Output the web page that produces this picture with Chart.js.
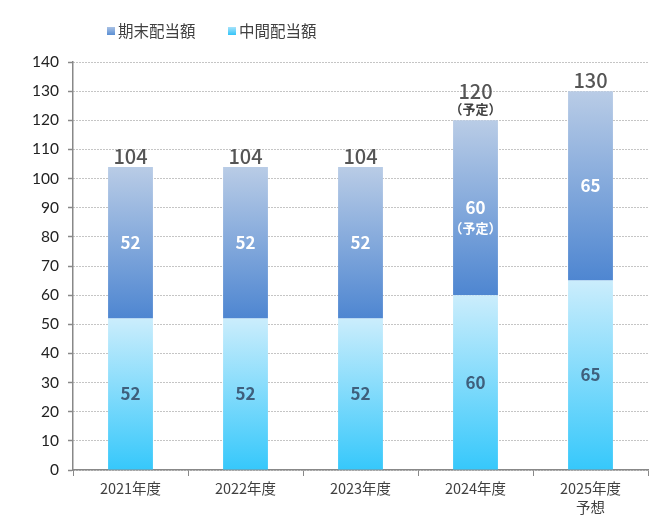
<!doctype html>
<html>
<head>
	<title>配当額の推移</title>
	<script src="https://cdn.jsdelivr.net/npm/chart.js@4.4.1/dist/chart.umd.min.js"></script>
	<style>
	body { margin: 0; background: #fff; }
	.chart-container { width: 671px; height: 532px; }
	</style>
</head>
<body>
	<div class="chart-container"><canvas id="chart"></canvas></div>
	<script>
		var categories = [['2021年度'], ['2022年度'], ['2023年度'], ['2024年度'], ['2025年度', '予想']];
		var interimValues = [52, 52, 52, 60, 65];   // 中間配当額
		var yearEndValues = [52, 52, 52, 60, 65];   // 期末配当額
		var yearEndNotes = ['', '', '', '（予定）', ''];
		var totalNotes = ['', '', '', '（予定）', ''];
		var legendLabels = ['期末配当額', '中間配当額'];

		var JP = '"Noto Sans CJK JP", "Noto Sans", sans-serif';

		function barGradient(context, topColor, bottomColor) {
			var chart = context.chart;
			if (!chart.chartArea || context.dataIndex === undefined) {
				return bottomColor;
			}
			var y = chart.scales.y;
			var i = context.dataIndex;
			var base = context.datasetIndex === 0 ? 0 : interimValues[i];
			var top = context.datasetIndex === 0 ? interimValues[i] : interimValues[i] + yearEndValues[i];
			var g = chart.ctx.createLinearGradient(0, y.getPixelForValue(top), 0, y.getPixelForValue(base));
			g.addColorStop(0, topColor);
			g.addColorStop(1, bottomColor);
			return g;
		}

		var labelPlugin = {
			id: 'labels',
			afterDatasetsDraw: function(chart) {
				var ctx = chart.ctx;
				var low = chart.getDatasetMeta(0).data;
				var high = chart.getDatasetMeta(1).data;
				ctx.save();
				ctx.textAlign = 'center';
				ctx.textBaseline = 'middle';
				for (var i = 0; i < categories.length; i++) {
					// interim (lower) value
					var mid = (low[i].y + low[i].base) / 2;
					ctx.fillStyle = '#3f5f7c';
					ctx.font = 'bold 17px ' + JP;
					ctx.fillText(interimValues[i], low[i].x, mid);
					// year-end (upper) value
					mid = (high[i].y + high[i].base) / 2;
					ctx.fillStyle = '#ffffff';
					ctx.fillText(yearEndValues[i], high[i].x, mid);
					if (yearEndNotes[i]) {
						ctx.font = 'bold 13px ' + JP;
						ctx.fillText(yearEndNotes[i], high[i].x, mid + 20);
					}
					// total above bar
					var total = interimValues[i] + yearEndValues[i];
					var ty = high[i].y - 11;
					if (totalNotes[i]) {
						ctx.fillStyle = '#404040';
						ctx.font = 'bold 13px ' + JP;
						ctx.fillText(totalNotes[i], high[i].x, ty);
						ty -= 18;
					}
					ctx.fillStyle = '#555555';
					ctx.font = '500 20px ' + JP;
					ctx.fillText(total, high[i].x, ty);
				}
				ctx.restore();
			}
		};

		var legendPlugin = {
			id: 'topLegend',
			afterDraw: function(chart) {
				var ctx = chart.ctx;
				var items = [
					{ x: 107, top: '#a9c1e4', bottom: '#5a8fd4' },
					{ x: 228, top: '#a6e3fb', bottom: '#33c4f8' }
				];
				ctx.save();
				ctx.font = '15.5px ' + JP;
				ctx.textBaseline = 'middle';
				items.forEach(function(it, k) {
					var g = ctx.createLinearGradient(0, 27, 0, 35);
					g.addColorStop(0, it.top);
					g.addColorStop(1, it.bottom);
					ctx.fillStyle = g;
					ctx.fillRect(it.x, 27, 8, 8);
					ctx.fillStyle = '#404040';
					ctx.fillText(legendLabels[k], it.x + 11, 31);
				});
				ctx.restore();
			}
		};

		window.onload = function() {
			var ctx = document.getElementById('chart').getContext('2d');
			new Chart(ctx, {
				type: 'bar',
				data: {
					labels: categories,
					datasets: [{
						label: legendLabels[1],
						data: interimValues,
						stack: 's',
						backgroundColor: function(c) { return barGradient(c, '#cbedfc', '#36c8fb'); }
					}, {
						label: legendLabels[0],
						data: yearEndValues,
						stack: 's',
						backgroundColor: function(c) { return barGradient(c, '#b9cce6', '#4e86d1'); }
					}]
				},
				options: {
					responsive: true,
					maintainAspectRatio: false,
					animation: false,
					barPercentage: 0.39,
					categoryPercentage: 1,
					layout: { padding: { top: 62, right: 23, left: 0, bottom: 0 } },
					plugins: {
						legend: { display: false },
						tooltip: { enabled: false }
					},
					scales: {
						x: {
							stacked: true,
							afterFit: function(axis) { axis.height = 62; },
							grid: {
								drawOnChartArea: false,
								drawTicks: true,
								tickLength: 6,
								color: '#888888'
							},
							border: { color: '#888888', width: 1.5 },
							ticks: {
								color: '#404040',
								padding: 3,
								font: { family: JP, size: 14.5, lineHeight: 1.3 }
							}
						},
						y: {
							stacked: true,
							min: 0,
							max: 140,
							afterFit: function(axis) { axis.width = 73; },
							ticks: {
								stepSize: 10,
								color: '#222222',
								padding: 9,
								font: { family: 'Lato, "Open Sans", sans-serif', size: 15.5 }
							},
							grid: {
								color: '#8a8a8a',
								lineWidth: 1,
								tickLength: 5,
								tickColor: '#888888',
								tickBorderDash: [],
								tickWidth: 1.5
							},
							border: { color: '#888888', width: 1.5, dash: [1, 2] }
						}
					}
				},
				plugins: [labelPlugin, legendPlugin]
			});
		};
	</script>
</body>
</html>
